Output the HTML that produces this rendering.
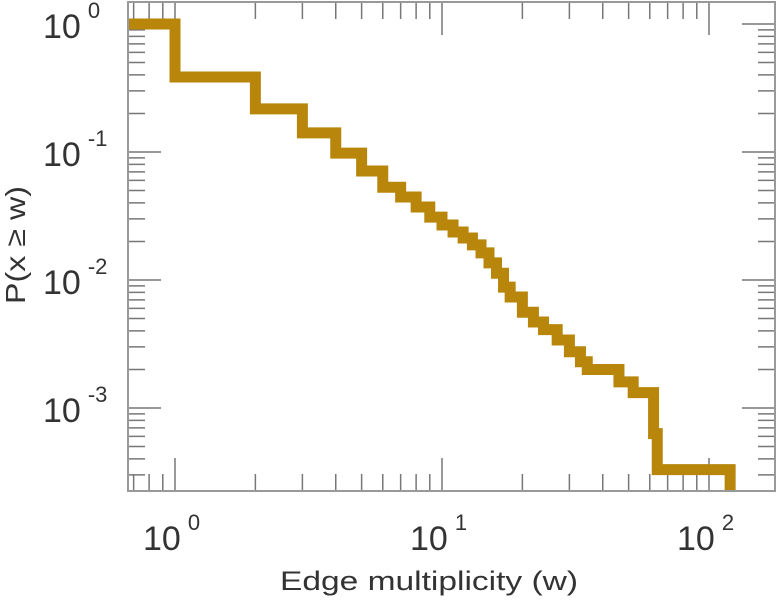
<!DOCTYPE html>
<html><head><meta charset="utf-8"><style>
html,body{margin:0;padding:0;background:#fff;}
svg{display:block;font-family:"Liberation Sans",sans-serif;}
</style></head><body>
<svg id="chart" width="777" height="600" viewBox="0 0 777 600" xmlns="http://www.w3.org/2000/svg">
<defs><clipPath id="plotclip"><rect x="128" y="2" width="647" height="489"></rect></clipPath></defs>
<g id="ticks"></g>
<path id="series" clip-path="url(#plotclip)" fill="none" stroke="#b8860b" stroke-width="11" stroke-linejoin="miter" stroke-linecap="butt"></path>
<rect x="128" y="2" width="647" height="489" fill="none" stroke="#999" stroke-width="2"></rect>
<g id="labels" fill="#333"></g>
<text x="429" y="590" font-size="27" fill="#333" text-anchor="middle" textLength="298" lengthAdjust="spacingAndGlyphs">Edge multiplicity (w)</text>
<text transform="translate(25,245) rotate(-90)" font-size="28" fill="#333" text-anchor="middle" textLength="118" lengthAdjust="spacingAndGlyphs">P(x ≥ w)</text>
</svg>
<script>
const stepW = [0.667, 1, 2, 3, 4, 5, 6, 7, 8, 9, 10, 11, 12, 13, 14, 15, 16, 17, 18, 20, 22, 24, 27, 30, 33, 35, 46, 52, 62, 64];
const stepP = [1, 0.385, 0.217, 0.141, 0.098, 0.071, 0.053, 0.0445, 0.0372, 0.031, 0.0269, 0.0237, 0.0213, 0.0188, 0.0163, 0.0136, 0.0113, 0.0088, 0.00736, 0.0056, 0.0047, 0.0041, 0.0034, 0.00275, 0.0023, 0.0020, 0.0016, 0.00132, 0.00063, 0.00033];
const maxW = 120;
const xMajor = [1, 10, 100];
const xMajorExp = ["0", "1", "2"];
const yMajor = [1, 0.1, 0.01, 0.001];
const yMajorExp = ["0", "-1", "-2", "-3"];

const X0 = 175, XD = 267, Y0 = 24, YD = 128;
const L = 128, R = 775, T = 2, B = 491;
function xs(w){ return X0 + XD * Math.log10(w); }
function ys(p){ return Y0 - YD * Math.log10(p); }
const NS = "http://www.w3.org/2000/svg";

let d = "M" + xs(stepW[0]) + "," + ys(stepP[0]);
for (let i = 0; i < stepW.length; i++) {
  const xEnd = i + 1 < stepW.length ? xs(stepW[i+1]) : xs(maxW);
  d += " H" + xEnd;
  if (i + 1 < stepW.length) d += " V" + ys(stepP[i+1]);
}
d += " V" + (B + 10);
document.getElementById("series").setAttribute("d", d);

const tg = document.getElementById("ticks");
function line(x1,y1,x2,y2,name){
  const l = document.createElementNS(NS, "line");
  l.setAttribute("x1", x1); l.setAttribute("y1", y1);
  l.setAttribute("x2", x2); l.setAttribute("y2", y2);
  l.setAttribute("stroke", "#777"); l.setAttribute("stroke-width", "1.5");
  
  
  tg.appendChild(l);
}
for (let e = -1; e <= 2; e++) {
  for (let m = 1; m <= 9; m++) {
    const x = xs(m * Math.pow(10, e));
    if (x < L || x > R) continue;
    const len = m === 1 ? 33 : 17;
    line(x, B, x, B - len, "x-tick");
    line(x, T, x, T + len, "x-tick-top");
  }
}
for (let e = -4; e <= 0; e++) {
  for (let m = 1; m <= 9; m++) {
    const y = ys(m * Math.pow(10, e));
    if (y < T || y > B) continue;
    const len = m === 1 ? 33 : 17;
    line(L, y, L + len, y, "y-tick");
    line(R, y, R - len, y, "y-tick-right");
  }
}
const lg = document.getElementById("labels");
function label(x, y, exp, name){
  const t = document.createElementNS(NS, "text");
  t.setAttribute("font-size", "34");
  
  
  t.setAttribute("y", y);
  t.setAttribute("x", x);
  const base = document.createElementNS(NS, "tspan");
  base.textContent = "10";
  const sup = document.createElementNS(NS, "tspan");
  sup.setAttribute("font-size", "22");
  sup.setAttribute("dx", "7");
  sup.setAttribute("dy", "-20");
  sup.textContent = exp;
  t.appendChild(base); t.appendChild(sup);
  lg.appendChild(t);
}
xMajor.forEach((w, i) => label(xs(w) - 32, 550, xMajorExp[i], "x-tick-label"));
yMajor.forEach((p, i) => label(43, ys(p) + 14, yMajorExp[i], "y-tick-label"));
</script>
</body></html>
